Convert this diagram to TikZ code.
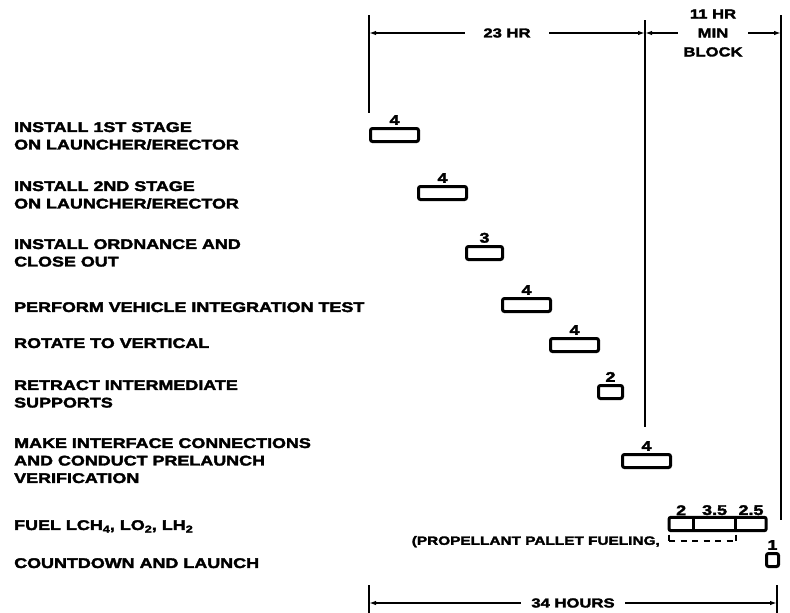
\documentclass[tikz,border=0pt]{standalone}
\usepackage{fontspec}
\newfontfamily\chartfont{Liberation Sans}[FakeStretch=1.28, BoldFeatures={FakeBold=2.5}]
\usepackage{tikz}
\usetikzlibrary{arrows.meta, calc, positioning}
\newcommand\lowsub[1]{\raisebox{-0.35ex}{\fontsize{10}{10}\selectfont #1}}

\begin{document}
\begin{tikzpicture}[x=1pt, y=-1pt,
    task/.style={font=\chartfont\bfseries\fontsize{14}{17.5}\selectfont, align=left, anchor=north west, inner sep=0pt},
    hours/.style={font=\chartfont\bfseries\fontsize{14}{14}\selectfont, inner sep=1pt, label distance=1pt},
    seg/.style={minimum height=13pt, inner sep=0pt, anchor=west, label={[hours]above:#1}},
    bar/.style={seg=#1, draw, line width=3pt, rounded corners=2pt},
    guide/.style={line width=1.5pt},
    dimline/.style={line width=1.5pt, {Latex[length=7pt, width=4.5pt]}-{Latex[length=7pt, width=4.5pt]}},
    gap/.style={font=\chartfont\bfseries\fontsize{13}{19}\selectfont, fill=white, align=center, inner ysep=1pt}
]
    \useasboundingbox (0,0) rectangle (790,613);
    \def\xo{369}
    \def\u{12}
    % Tasks
    \node[task] (t1) at (14,122) {INSTALL 1ST STAGE\\ON LAUNCHER/ERECTOR};
    \node[task] (t2) at (14,181) {INSTALL 2ND STAGE\\ON LAUNCHER/ERECTOR};
    \node[task] (t3) at (14,239) {INSTALL ORDNANCE AND\\CLOSE OUT};
    \node[task] (t4) at (14,302) {PERFORM VEHICLE INTEGRATION TEST};
    \node[task] (t5) at (14,338) {ROTATE TO VERTICAL};
    \node[task] (t6) at (14,380) {RETRACT INTERMEDIATE\\SUPPORTS};
    \node[task] (t7) at (14,438) {MAKE INTERFACE CONNECTIONS\\AND CONDUCT PRELAUNCH\\VERIFICATION};
    \node[task] (t8) at (14,520) {FUEL LCH\lowsub{4}, LO\lowsub{2}, LH\lowsub{2}};
    \node[task] (t9) at (14,558) {COUNTDOWN AND LAUNCH};
    % Bars: index/start/duration/y
    \foreach \i/\s/\d/\y in {1/0/4/135, 2/4/4/193, 3/8/3/253, 4/11/4/305, 5/15/4/345, 6/19/2/392, 7/21/4/461} {
        \node[bar=\d, minimum width={\d*\u*1pt}] (b\i) at ({\xo+\s*\u}, \y) {};
    }
    % Fueling
    \node[seg=2, minimum width={2*\u*1pt}] (f1) at ({\xo+25*\u}, 524) {};
    \node[seg=3.5, minimum width={3.5*\u*1pt}] (f2) at (f1.east) {};
    \node[seg=2.5, minimum width={2.5*\u*1pt}] (f3) at (f2.east) {};
    \draw[line width=3pt, rounded corners=2pt] (f1.north west) rectangle (f3.south east);
    \draw[line width=3pt] (f1.north east) -- (f1.south east);
    \draw[line width=3pt] (f2.north east) -- (f2.south east);
    \coordinate (k1a) at ($(f1.south west)+(0,4)$);
    \coordinate (k1b) at ($(f1.south west)+(0,10)$);
    \coordinate (k2a) at ($(f2.south east)+(0,4)$);
    \coordinate (k2b) at ($(f2.south east)+(0,10)$);
    \draw[line width=1.6pt] (k1a) -- (k1b);
    \draw[line width=1.6pt] (k2a) -- (k2b);
    \draw[line width=1.6pt, dash pattern=on 6pt off 5.5pt] (k1b) -- (k2b);
    \node[font=\chartfont\bfseries\fontsize{12}{12}\selectfont, anchor=east, inner sep=0pt] (pallet)
        at ($(f1.south west)+(-9,11)$) {(PROPELLANT PALLET FUELING,};
    % Countdown
    \node[bar=1, minimum width={\u*1pt}] (cd) at ({\xo+33*\u}, 560) {};
    % Guide lines
    \coordinate (g0a) at (\xo,15);
    \coordinate (g0b) at (\xo,113);
    \coordinate (g23a) at ({\xo+23*\u},20);
    \coordinate (g23b) at ({\xo+23*\u},427);
    \coordinate (g34a) at (781,15);
    \coordinate (g34b) at (781,520);
    \draw[guide] (g0a) -- (g0b);
    \draw[guide] (g23a) -- (g23b);
    \draw[guide] (g34a) -- (g34b);
    % Top dimensions
    \coordinate (d0) at (\xo,33);
    \coordinate (d23) at ({\xo+23*\u},33);
    \coordinate (d34) at (781,33);
    \draw[dimline] (d0) -- node[gap, inner xsep=18pt] {23 HR} (d23);
    \draw[dimline] (d23) -- node[gap, inner xsep=5pt] {11 HR\\MIN\\BLOCK} (d34);
    % Bottom dimension
    \coordinate (e0a) at (\xo,585);
    \coordinate (e0b) at (\xo,613);
    \coordinate (e34a) at ({\xo+34*\u},585);
    \coordinate (e34b) at ({\xo+34*\u},613);
    \draw[guide] (e0a) -- (e0b);
    \draw[guide] (e34a) -- (e34b);
    \coordinate (e0) at (\xo,603);
    \coordinate (e34) at ({\xo+34*\u},603);
    \draw[dimline] (e0) -- node[gap, inner xsep=10pt] {34 HOURS} (e34);
\end{tikzpicture}
\end{document}
